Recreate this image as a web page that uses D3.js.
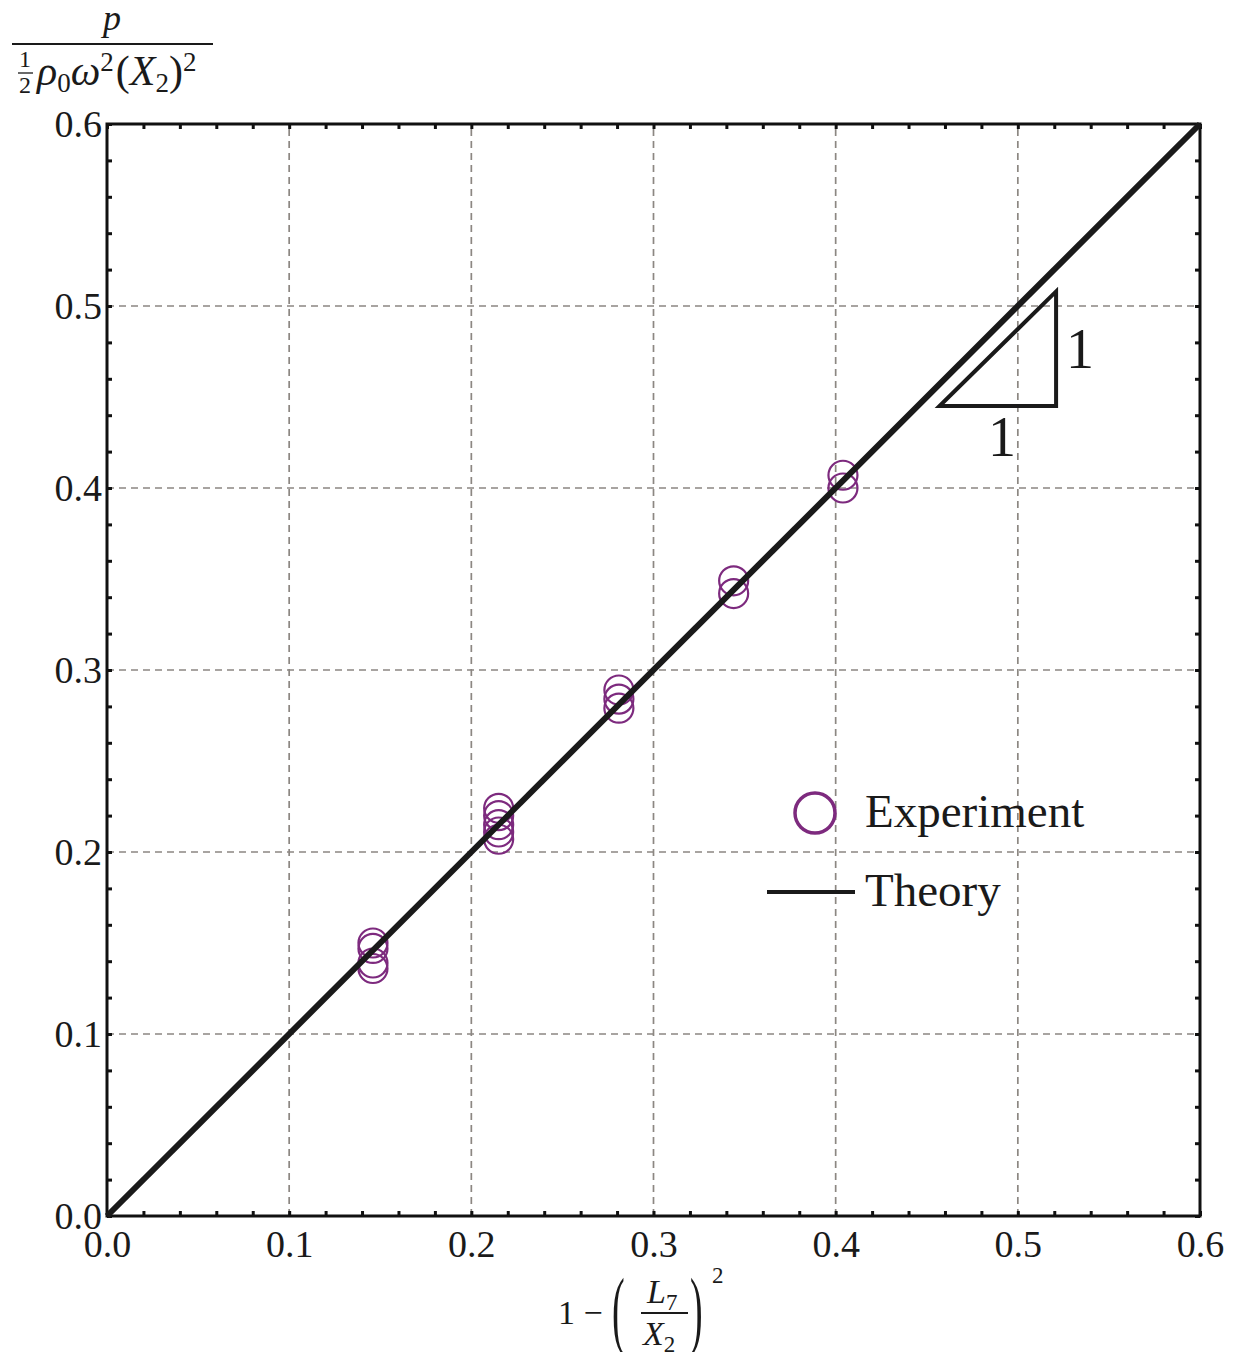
<!DOCTYPE html>
<html>
<head>
<meta charset="utf-8">
<script src="https://cdn.jsdelivr.net/npm/d3@7"></script>
<style>
  body { margin: 0; background: #fff; }
  svg { font-family: "Liberation Serif", "DejaVu Serif", serif; }
</style>
</head>
<body>
<svg width="1243" height="1352"></svg>
<script>
// experiment: x position and the y values measured at it
const expX = [0.146, 0.215, 0.281, 0.344, 0.404]
const expY = [
  [0.150, 0.147, 0.139, 0.136],
  [0.224, 0.220, 0.215, 0.211, 0.207],
  [0.289, 0.284, 0.279],
  [0.349, 0.342],
  [0.407, 0.400]
]
const theory = [[0, 0], [0.6, 0.6]]
const tickVals = [0, 0.1, 0.2, 0.3, 0.4, 0.5, 0.6]
const tri = [[0.457, 0.445], [0.521, 0.445], [0.521, 0.508]]

const svg = d3.select("svg")
const x = d3.scaleLinear().domain([0, 0.6]).range([107, 1200])
const y = d3.scaleLinear().domain([0, 0.6]).range([1216, 124])
const purple = "#7d2a7e"
const ink = "#1a1a1a"

// grid
const grid = svg.append("g")
grid.selectAll("line.gx").data(tickVals.slice(1, -1)).enter().append("line")
  .attr("x1", d => x(d)).attr("x2", d => x(d)).attr("y1", y(0)).attr("y2", y(0.6))
grid.selectAll("line.gy").data(tickVals.slice(1, -1)).enter().append("line")
  .attr("y1", d => y(d)).attr("y2", d => y(d)).attr("x1", x(0)).attr("x2", x(0.6))
grid.selectAll("line").attr("stroke", "#8c8782").attr("stroke-width", 1.7)
  .attr("stroke-dasharray", "7,5")

// axes (inward ticks on all four sides)
const minor = d3.range(0, 0.6001, 0.02)
function frameTicks(axis, tr) {
  const g = svg.append("g").attr("transform", tr)
  g.call(axis.tickValues(minor).tickSize(-5).tickFormat(""))
  g.selectAll(".tick line").attr("stroke", "#111").attr("stroke-width", 3)
  g.select(".domain").remove()
  return g
}
frameTicks(d3.axisBottom(x), `translate(0,${y(0)})`)
frameTicks(d3.axisTop(x), `translate(0,${y(0.6)})`)
frameTicks(d3.axisLeft(y), `translate(${x(0)},0)`)
frameTicks(d3.axisRight(y), `translate(${x(0.6)},0)`)

// tick labels
const xl = svg.append("g").attr("transform", `translate(0,${y(0)})`)
  .call(d3.axisBottom(x).tickValues(tickVals).tickSize(0).tickPadding(14).tickFormat(d3.format(".1f")))
xl.select(".domain").remove()
xl.selectAll("text").attr("font-size", 38).attr("fill", ink).attr("font-family", "Liberation Serif")
const yl = svg.append("g").attr("transform", `translate(${x(0)},0)`)
  .call(d3.axisLeft(y).tickValues(tickVals).tickSize(0).tickPadding(5).tickFormat(d3.format(".1f")))
yl.select(".domain").remove()
yl.selectAll("text").attr("font-size", 38).attr("fill", ink).attr("font-family", "Liberation Serif")

// frame
svg.append("rect").attr("x", x(0)).attr("y", y(0.6))
  .attr("width", x(0.6) - x(0)).attr("height", y(0) - y(0.6))
  .attr("fill", "none").attr("stroke", "#111").attr("stroke-width", 3)

// experiment circles
const pts = []
expX.forEach((xv, i) => expY[i].forEach(yv => pts.push([xv, yv])))
svg.append("g").selectAll("circle").data(pts).enter().append("circle")
  .attr("cx", d => x(d[0])).attr("cy", d => y(d[1])).attr("r", 14.5)
  .attr("fill", "none").attr("stroke", purple).attr("stroke-width", 2.2)

// theory line
const line = d3.line().x(d => x(d[0])).y(d => y(d[1]))
svg.append("path").datum(theory).attr("d", line)
  .attr("stroke", ink).attr("stroke-width", 6).attr("fill", "none")

// slope triangle
svg.append("path").datum(tri).attr("d", d => line(d) + "Z")
  .attr("fill", "none").attr("stroke", ink).attr("stroke-width", 4)
svg.append("text").attr("x", 1080).attr("y", 368).attr("font-size", 56)
  .attr("text-anchor", "middle").attr("fill", ink).text("1")
svg.append("text").attr("x", 1002).attr("y", 456).attr("font-size", 56)
  .attr("text-anchor", "middle").attr("fill", ink).text("1")

// legend
const leg = svg.append("g")
leg.append("circle").attr("cx", 815).attr("cy", 813).attr("r", 20)
  .attr("fill", "none").attr("stroke", purple).attr("stroke-width", 3.5)
leg.append("text").attr("x", 865).attr("y", 827).attr("font-size", 47)
  .attr("fill", ink).text("Experiment")
leg.append("line").attr("x1", 767).attr("x2", 855).attr("y1", 892).attr("y2", 892)
  .attr("stroke", ink).attr("stroke-width", 4)
leg.append("text").attr("x", 865).attr("y", 906).attr("font-size", 47)
  .attr("fill", ink).text("Theory")

// y label: p / (1/2 rho0 omega^2 (X2)^2)
const yt = svg.append("g").attr("fill", ink).attr("font-family", "Liberation Serif")
yt.append("text").attr("x", 112).attr("y", 30).attr("font-size", 36)
  .attr("font-style", "italic").attr("text-anchor", "middle").text("p")
yt.append("line").attr("x1", 12).attr("x2", 213).attr("y1", 44).attr("y2", 44)
  .attr("stroke", ink).attr("stroke-width", 1.8)
yt.append("text").attr("x", 25).attr("y", 67).attr("font-size", 24).attr("text-anchor", "middle").text("1")
yt.append("line").attr("x1", 18).attr("x2", 33).attr("y1", 73).attr("y2", 73)
  .attr("stroke", ink).attr("stroke-width", 1.3)
yt.append("text").attr("x", 25).attr("y", 93).attr("font-size", 24).attr("text-anchor", "middle").text("2")
const den = yt.append("text").attr("x", 37).attr("y", 85).attr("font-size", 42)
den.append("tspan").attr("font-style", "italic").text("ρ")
den.append("tspan").attr("font-size", 27).attr("dy", 7).text("0")
den.append("tspan").attr("font-style", "italic").attr("dy", -7).text("ω")
den.append("tspan").attr("font-size", 27).attr("dy", -14).text("2")
den.append("tspan").attr("dy", 14).attr("dx", 2).text("(")
den.append("tspan").attr("font-style", "italic").text("X")
den.append("tspan").attr("font-size", 27).attr("dy", 7).text("2")
den.append("tspan").attr("dy", -7).text(")")
den.append("tspan").attr("font-size", 27).attr("dy", -14).text("2")

// x label: 1 - (L7 / X2)^2
const xt = svg.append("g").attr("fill", ink).attr("font-family", "Liberation Serif")
xt.append("text").attr("x", 558).attr("y", 1324).attr("font-size", 34).text("1 −")
xt.append("text").attr("transform", "translate(612,1338) scale(1,2.3)")
  .attr("font-size", 38).text("(")
xt.append("text").attr("transform", "translate(690,1338) scale(1,2.3)")
  .attr("font-size", 38).text(")")
const num = xt.append("text").attr("x", 647).attr("y", 1303).attr("font-size", 34)
num.append("tspan").attr("font-style", "italic").text("L")
num.append("tspan").attr("font-size", 23).attr("dy", 7).text("7")
xt.append("line").attr("x1", 641).attr("x2", 688).attr("y1", 1313).attr("y2", 1313)
  .attr("stroke", ink).attr("stroke-width", 1.8)
const dn = xt.append("text").attr("x", 643).attr("y", 1345).attr("font-size", 34)
dn.append("tspan").attr("font-style", "italic").text("X")
dn.append("tspan").attr("font-size", 23).attr("dy", 7).text("2")
xt.append("text").attr("x", 712).attr("y", 1283).attr("font-size", 23).text("2")
</script>
</body>
</html>
